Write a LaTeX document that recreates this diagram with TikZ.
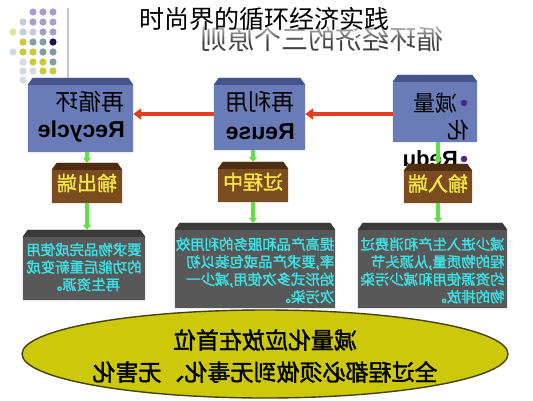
\documentclass[tikz,border=0pt]{standalone}
\usepackage{fontspec}
\setmainfont{Liberation Sans}
\newfontfamily\cjk{Noto Sans CJK SC}
\newfontfamily\cjkb[FakeBold=1.6]{Noto Sans CJK SC}
\usetikzlibrary{arrows.meta,fadings,shapes.geometric,calc}
\definecolor{boxblue}{RGB}{106,124,184}
\definecolor{boxbluetop}{RGB}{70,84,140}
\definecolor{boxbrown}{RGB}{122,76,32}
\definecolor{boxbrowntop}{RGB}{78,46,16}
\definecolor{boxgray}{RGB}{88,88,88}
\definecolor{boxgraytop}{RGB}{58,58,58}
\definecolor{txtcyan}{RGB}{60,228,232}
\definecolor{txtyellow}{RGB}{245,232,70}
\definecolor{arrred}{RGB}{228,62,32}
\definecolor{arrgreen}{RGB}{100,222,70}
\definecolor{ellfill}{RGB}{204,200,10}
\definecolor{elldraw}{RGB}{70,66,10}
\definecolor{dpurple}{RGB}{170,158,200}
\definecolor{dgreyblue}{RGB}{196,206,216}
\definecolor{dltyellow}{RGB}{222,230,150}
\definecolor{dyellow}{RGB}{200,202,60}
\definecolor{dteal}{RGB}{126,158,160}
\definecolor{dnavy}{RGB}{28,18,70}
\definecolor{dltgrey}{RGB}{212,218,226}
\definecolor{bulletc}{RGB}{80,40,140}
\tikzfading[name=topfade, top color=transparent!0, bottom color=transparent!100]
\newcommand\drawbox[3]{%
  \fill[#2] ($(#1.north west)+(0,7)$) -- ($(#1.north west)+(5,0)$) -- ($(#1.north east)+(-5,0)$) -- ($(#1.north east)+(0,7)$) -- (#1.south east) -- (#1.south west) -- cycle;
  \fill[#3] ($(#1.north west)+(0,7)$) -- ($(#1.north west)+(5,0)$) -- ($(#1.north east)+(-5,0)$) -- ($(#1.north east)+(0,7)$) -- cycle;}
\begin{document}
\begin{tikzpicture}[x=1pt,y=-1pt,
  boxnode/.style={rectangle, inner sep=0pt},
  mir/.style={xscale=-1, inner sep=0pt},
  redarr/.style={draw=arrred, line width=4pt, -{Triangle[length=8pt,width=11pt]}},
  greenarr/.style={draw=arrgreen, line width=3.6pt, -{Triangle[length=5pt,width=8pt]}},
  bluetxt/.style={mir, font=\cjk\fontsize{23}{23}\selectfont, text=black},
  engtxt/.style={mir, font=\bfseries\fontsize{23}{23}\selectfont, text=black},
  browntxt/.style={mir, font=\cjkb\fontsize{20}{20}\selectfont, text=txtyellow},
  graytxt/.style={mir, font=\cjkb\fontsize{14.4}{17.5}\selectfont, text=txtcyan},
  elltxt/.style={mir, font=\cjkb\fontsize{23}{32}\selectfont, text=black}]
\useasboundingbox (0,0) rectangle (533,400);
\fill[white] (0,0) rectangle (533,400);
% decorative dots
\foreach \x/\y/\c in {33/12/dpurple,43/12/dpurple,53/12/dpurple,
  23/22/dgreyblue,33/22/dpurple,43/22/dpurple,53/22/dpurple,
  13/32/dltyellow,23/32/dgreyblue,33/32/dgreyblue,43/32/dpurple,53/32/dpurple,
  23/42/dyellow,33/42/dteal,43/42/dteal,53/42/dnavy,
  13/52/dltgrey,23/52/dyellow,33/52/dyellow,43/52/dteal,53/52/dteal,
  23/62/dltgrey,33/62/dyellow,43/62/dyellow,53/62/dteal,
  23/71/dltgrey,33/71/dltgrey,43/71/dyellow,53/71/dyellow,
  23/80/dltgrey}
  \fill[\c] (\x,\y) circle (3.6);
\draw[gray!45, line width=1.4pt] (68,8) -- (68,80);
% mirrored subtitle
\node[mir, font=\cjk\fontsize{27}{27}\selectfont, text=black!75] (sub) at (322,39) {循环经济的三个原则};
\fill[white, opacity=0.8, path fading=topfade] (190,22) rectangle (460,42);
% title
\node[inner sep=0pt, font=\cjk\fontsize{25}{25}\selectfont, text=black] (title) at (264.5,19) {时尚界的循环经济实践};
% blue boxes
\node[boxnode, minimum width=105pt, minimum height=74pt] (bL) at (80.5,115) {};
\node[boxnode, minimum width=91pt, minimum height=72pt] (bC) at (259.5,114) {};
\node[boxnode, minimum width=84pt, minimum height=67pt] (bR) at (435,108.5) {};
\drawbox{bL}{boxblue}{boxbluetop}
\drawbox{bC}{boxblue}{boxbluetop}
\drawbox{bR}{boxblue}{boxbluetop}
\node[bluetxt, anchor=west] (tL1) at (125,102) {再循环};
\node[engtxt, anchor=west] (tL2) at (125,132) {Recycle};
\node[bluetxt, anchor=west] (tC1) at (295,102) {再利用};
\node[engtxt, anchor=west] (tC2) at (295,132) {Reuse};
\node[bluetxt, anchor=west, font=\cjk\fontsize{22}{22}\selectfont] (tR1) at (458,103) {减量};
\fill[bulletc] (464,103) circle (3.3);
\node[bluetxt, anchor=west, font=\cjk\fontsize{22}{22}\selectfont] (tR2) at (470,130) {化};
\node[engtxt, anchor=west, font=\bfseries\fontsize{22}{22}\selectfont] (tR3) at (458,159) {Redu};
\fill[bulletc] (464,159) circle (3.3);
% red arrows
\draw[redarr] (bR.west |- bC.east) -- (bC.east);
\draw[redarr] (bC.west) -- (bL.east |- bC.west);
% brown boxes
\node[boxnode, minimum width=70pt, minimum height=40pt] (brL) at (87,183) {};
\node[boxnode, minimum width=70pt, minimum height=40pt] (brC) at (253,182) {};
\node[boxnode, minimum width=68pt, minimum height=39pt] (brR) at (438,183.5) {};
\drawbox{brL}{boxbrown}{boxbrowntop}
\drawbox{brC}{boxbrown}{boxbrowntop}
\drawbox{brR}{boxbrown}{boxbrowntop}
\node[browntxt] at (brL) {输出端};
\node[browntxt] at (brC) {过程中};
\node[browntxt] at (brR) {输入端};
% gray boxes
\node[boxnode, minimum width=122pt, minimum height=70pt] (gL) at (84,265) {};
\node[boxnode, minimum width=160pt, minimum height=85pt] (gC) at (255,265.5) {};
\node[boxnode, minimum width=149pt, minimum height=85pt] (gR) at (432.5,265.5) {};
\drawbox{gL}{boxgray}{boxgraytop}
\drawbox{gC}{boxgray}{boxgraytop}
\drawbox{gR}{boxgray}{boxgraytop}
\node[graytxt, align=center] at ($(gL)+(0,2)$) {要求物品完成使用\\的功能后重新变成\\再生资源。};
\node[graytxt, align=left] at ($(gC)+(0,5)$) {提高产品和服务的利用效\\率,要求产品或包装以初\\始形式多次使用,减少一\\次污染。};
\node[graytxt, align=left] at ($(gR)+(0,5)$) {减少进入生产和消费过\\程的物质量,从源头节\\约资源使用和减少污染\\物的排放。};
% green arrows
\draw[greenarr] (bL.south -| brL.north) -- (brL.north);
\draw[greenarr] (bC.south -| brC.north) -- (brC.north);
\draw[greenarr] (bR.south -| brR.north) -- (brR.north);
\draw[greenarr] (brL.south) -- (gL.north -| brL.south);
\draw[greenarr] (brC.south) -- (gC.north -| brC.south);
\draw[greenarr] (brR.south) -- (gR.north -| brR.south);
% ellipse
\node[ellipse, draw=elldraw, line width=1.4pt, fill=ellfill, minimum width=486pt, minimum height=88pt] (ell) at (265,354) {};
\node[elltxt] at (265,340) {减量化应放在首位};
\node[elltxt] at (265,372) {全过程都必须做到无毒化、无害化};
\end{tikzpicture}
\end{document}
